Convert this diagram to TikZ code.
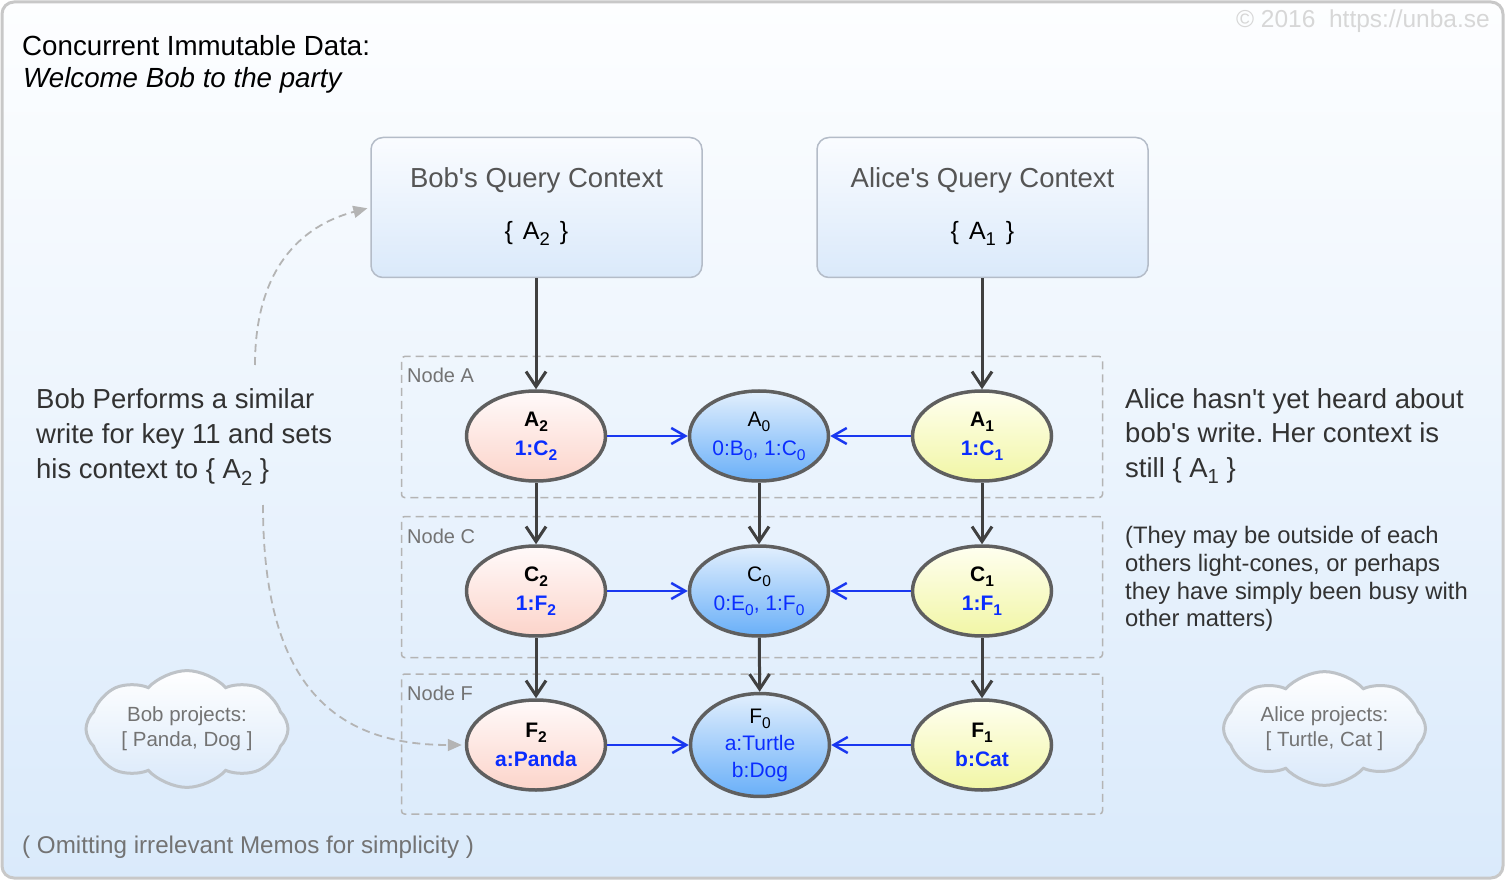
\documentclass[tikz,border=0pt]{standalone}
\usepackage{fontspec}
\setmainfont{Liberation Sans}
\usetikzlibrary{arrows.meta,shapes.geometric,shapes.symbols}
\frenchspacing
\newcommand{\lsub}[1]{\raisebox{-0.24em}{\scalebox{0.74}{#1}}}
\newcommand{\apos}{\textquotesingle}
\definecolor{framegray}{RGB}{200,200,200}
\definecolor{bgtop}{RGB}{253,254,255}
\definecolor{bgbot}{RGB}{218,234,251}
\definecolor{ctxtop}{RGB}{250,252,255}
\definecolor{ctxbot}{RGB}{218,233,250}
\definecolor{ctxborder}{RGB}{180,188,200}
\definecolor{ellborder}{RGB}{95,95,95}
\definecolor{darkarrow}{RGB}{64,64,64}
\definecolor{bluearrow}{RGB}{25,55,240}
\definecolor{bluetext}{RGB}{10,45,255}
\definecolor{pinktop}{RGB}{255,250,250}
\definecolor{pinkbot}{RGB}{252,212,202}
\definecolor{bluetop}{RGB}{226,239,253}
\definecolor{bluebot}{RGB}{105,175,248}
\definecolor{yeltop}{RGB}{255,255,240}
\definecolor{yelbot}{RGB}{241,246,165}
\definecolor{dashgray}{RGB}{180,180,180}
\definecolor{labelgray}{RGB}{115,115,115}
\definecolor{titlegray}{RGB}{85,85,85}
\definecolor{textdark}{RGB}{50,50,50}
\definecolor{cloudborder}{RGB}{190,195,200}
\definecolor{copygray}{RGB}{215,215,215}
\tikzset{
  framebox/.style={draw=framegray, line width=3pt, rounded corners=12pt, top color=bgtop, bottom color=bgbot, inner sep=0pt},
  ctxbox/.style={draw=ctxborder, line width=1.5pt, rounded corners=12pt, top color=ctxtop, bottom color=ctxbot, minimum width=331pt, minimum height=140pt, inner sep=0pt},
  grpbox/.style={draw=dashgray, line width=1.5pt, dash pattern=on 8pt off 5pt, rounded corners=3pt, minimum width=701pt, inner sep=0pt},
  memo/.style={ellipse, draw=ellborder, line width=3.5pt, minimum width=139pt, minimum height=90pt, inner sep=0pt, align=center},
  bobmemo/.style={memo, top color=pinktop, bottom color=pinkbot, font=\fontsize{21}{29}\selectfont\bfseries},
  basememo/.style={memo, top color=bluetop, bottom color=bluebot, font=\fontsize{21}{29}\selectfont},
  alicememo/.style={memo, top color=yeltop, bottom color=yelbot, font=\fontsize{21}{29}\selectfont\bfseries},
  thought/.style={cloud, cloud puffs=8, cloud puff arc=95, aspect=2, draw=cloudborder, line width=3pt, top color=white, bottom color=ctxbot, minimum width=202pt, minimum height=102pt, inner sep=0pt, align=center, text=labelgray, font=\fontsize{20.5}{25}\selectfont},
  grplabel/.style={anchor=base west, text=labelgray, font=\fontsize{20}{24}\selectfont, inner sep=0pt},
  darr/.style={draw=darkarrow, line width=3pt, -{Straight Barb[length=15pt,width=20pt]}},
  barr/.style={draw=bluearrow, line width=2.5pt, -{Straight Barb[length=14pt,width=16pt]}},
  dasharr/.style={draw=dashgray, line width=1.8pt, dash pattern=on 8pt off 5pt, -{Triangle[length=14pt,width=12pt]}},
}
\begin{document}
\begin{tikzpicture}[x=1pt,y=-1pt]
\useasboundingbox (0,0) rectangle (1510,882);
\node[framebox, minimum width=1501pt, minimum height=876pt] (frame) at (752.5,440) {};

% title and credits
\node[anchor=base west, inner sep=0pt, font=\fontsize{27.7}{32}\selectfont] (title) at (22,56) {Concurrent Immutable Data:};
\node[anchor=base west, inner sep=0pt, font=\fontsize{27.7}{32}\selectfont\itshape] (subtitle) at (23,88) {Welcome Bob to the party};
\node[anchor=base east, inner sep=0pt, text=copygray, font=\fontsize{24.5}{28}\selectfont] (copy) at (1490,28) {© 2016\ \ https://unba.se};

% dashed groups
\node[grpbox, minimum height=141pt] (grpA) at (752,427) {};
\node[grpbox, minimum height=141pt] (grpC) at (752,587) {};
\node[grpbox, minimum height=140pt] (grpF) at (752,744) {};
\node[grplabel] (labA) at (407,383) {Node A};
\node[grplabel] (labC) at (407,543) {Node C};
\node[grplabel] (labF) at (407,700) {Node F};

% query contexts
\node[ctxbox] (bob) at (536.5,207.5) {};
\node[ctxbox] (alice) at (982.5,207.5) {};
\node[anchor=base, inner sep=0pt, text=titlegray, font=\fontsize{27.5}{32}\selectfont] (bobt) at (536.5,188) {Bob\apos s Query Context};
\node[anchor=base, inner sep=0pt, font=\fontsize{25}{28}\selectfont] (bobs) at (536.5,240) {\{\hspace{0.4em}A\lsub{2}\hspace{0.4em}\}};
\node[anchor=base, inner sep=0pt, text=titlegray, font=\fontsize{27.5}{32}\selectfont] (alicet) at (982.5,188) {Alice\apos s Query Context};
\node[anchor=base, inner sep=0pt, font=\fontsize{25}{28}\selectfont] (alices) at (982.5,240) {\{\hspace{0.4em}A\lsub{1}\hspace{0.4em}\}};

% side texts
\node[anchor=west, inner sep=0pt, align=left, text=textdark, font=\fontsize{27.5}{35}\selectfont] (bobnote) at (36,437)
  {Bob Performs a similar\\write for key 11 and sets\\his context to \{\ A\lsub{2}\ \}};
\node[anchor=west, inner sep=0pt, align=left, text=textdark, font=\fontsize{27.5}{34.5}\selectfont] (alicenote) at (1125,436)
  {Alice hasn\apos t yet heard about\\bob\apos s write. Her context is\\still \{\ A\lsub{1}\ \}};
\node[anchor=west, inner sep=0pt, align=left, text=textdark, font=\fontsize{23.8}{27.7}\selectfont] (conenote) at (1125,579)
  {(They may be outside of each\\others light-cones, or perhaps\\they have simply been busy with\\other matters)};
\node[anchor=base west, inner sep=0pt, text=labelgray, font=\fontsize{24.2}{28}\selectfont] (omit) at (22,853)
  {( Omitting irrelevant Memos for simplicity )};

% clouds
\node[thought] (bobcloud) at (187,729) {Bob projects:\\{[} Panda, Dog {]}};
\node[thought] (alicecloud) at (1324.5,728.5) {Alice projects:\\{[} Turtle, Cat {]}};

% memos
\node[bobmemo] (A2) at (536,436) {A\lsub{2}\\\color{bluetext}1:C\lsub{2}};
\node[basememo] (A0) at (759,436) {A\lsub{0}\\\color{bluetext}0:B\lsub{0}, 1:C\lsub{0}};
\node[alicememo] (A1) at (982,436) {A\lsub{1}\\\color{bluetext}1:C\lsub{1}};
\node[bobmemo] (C2) at (536,591) {C\lsub{2}\\\color{bluetext}1:F\lsub{2}};
\node[basememo] (C0) at (759,591) {C\lsub{0}\\\color{bluetext}0:E\lsub{0}, 1:F\lsub{0}};
\node[alicememo] (C1) at (982,591) {C\lsub{1}\\\color{bluetext}1:F\lsub{1}};
\node[bobmemo] (F2) at (536,745) {F\lsub{2}\\\color{bluetext}a:Panda};
\node[basememo, font=\fontsize{21}{27}\selectfont] (F0) at (760,745) {F\lsub{0}\\\color{bluetext}a:Turtle\\\color{bluetext}b:Dog};
\node[alicememo] (F1) at (982,745) {F\lsub{1}\\\color{bluetext}b:Cat};

% context pointers
\draw[darr] (bob.south -| A2.north) -- (A2.north);
\draw[darr] (alice.south -| A1.north) -- (A1.north);
% parent links
\draw[darr] (A2) -- (C2);
\draw[darr] (C2) -- (F2);
\draw[darr] (A0) -- (C0);
\draw[darr] (C0) -- (F0);
\draw[darr] (A1) -- (C1);
\draw[darr] (C1) -- (F1);
% sibling links
\draw[barr] (A2) -- (A0);
\draw[barr] (A1) -- (A0);
\draw[barr] (C2) -- (C0);
\draw[barr] (C1) -- (C0);
\draw[barr] (F2) -- (F0);
\draw[barr] (F1) -- (F0);

% dashed hints
\coordinate (h1) at (255,365);
\coordinate (h2) at (263,505);
\draw[dasharr, shorten >=3pt] (h1) .. controls (255,270) and (300,226) .. (bob.west);
\draw[dasharr, shorten >=3pt] (h2) .. controls (263,680) and (330,745) .. (F2.west);
\end{tikzpicture}
\end{document}
